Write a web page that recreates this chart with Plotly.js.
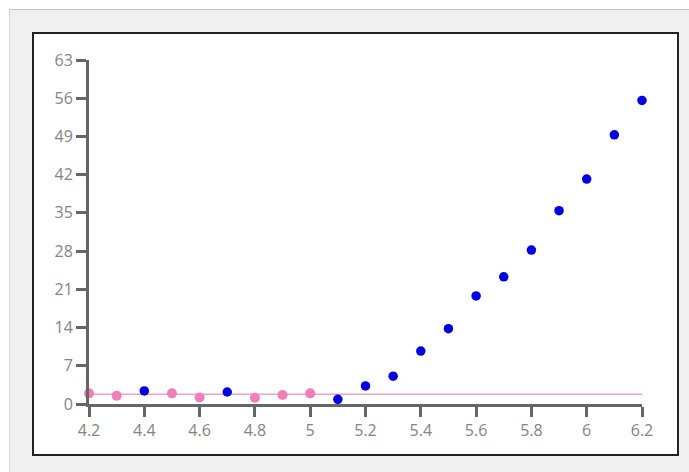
<!DOCTYPE html>
<html>
<head>
<meta charset="utf-8">
<script src="https://cdn.plot.ly/plotly-3.0.1.min.js"></script>
<style>
  html, body { margin:0; padding:0; background:#ffffff; width:689px; height:472px; overflow:hidden; }
  #outer { position:absolute; left:9px; top:9px; width:680px; height:463px; background:#f0f0f0;
           border-top:1px solid #c4c4c4; border-left:1px solid #d4d4d4; box-sizing:border-box; }
  #panel { position:absolute; left:32px; top:32px; width:647px; height:424px; background:#ffffff;
           border:2px solid #222222; box-sizing:border-box; }
  #chart { position:absolute; left:0; top:0; width:689px; height:472px; }
</style>
</head>
<body>
<div id="outer"></div>
<div id="panel"></div>
<div id="chart"></div>
<script>
// Pink series (markers) and its reference line
const pinkX = [4.2, 4.3, 4.5, 4.6, 4.8, 4.9, 5.0];
const pinkY = [1.95, 1.5, 1.95, 1.2, 1.15, 1.65, 1.95];
const pinkLineX = [4.2, 6.2];
const pinkLineY = [1.8, 1.8];

// Blue series
const blueX = [4.4, 4.7, 5.1, 5.2, 5.3, 5.4, 5.5, 5.6, 5.7, 5.8, 5.9, 6.0, 6.1, 6.2];
const blueY = [2.4, 2.2, 0.85, 3.3, 5.1, 9.7, 13.8, 19.8, 23.3, 28.2, 35.4, 41.2, 49.3, 55.6];

// Tick labels
const xTickVals = [4.2, 4.4, 4.6, 4.8, 5.0, 5.2, 5.4, 5.6, 5.8, 6.0, 6.2];
const xTickText = ["4.2", "4.4", "4.6", "4.8", "5", "5.2", "5.4", "5.6", "5.8", "6", "6.2"];
const yTickVals = [0, 7, 14, 21, 28, 35, 42, 49, 56, 63];
const yTickText = ["0", "7", "14", "21", "28", "35", "42", "49", "56", "63"];

const traces = [
  { x: pinkLineX, y: pinkLineY, type: 'scatter', mode: 'lines',
    line: { color: '#eaa3cb', width: 1.5 }, hoverinfo: 'skip', cliponaxis: false },
  { x: pinkX, y: pinkY, type: 'scatter', mode: 'markers',
    marker: { color: '#f07fb9', size: 10 }, cliponaxis: false },
  { x: blueX, y: blueY, type: 'scatter', mode: 'markers',
    marker: { color: '#0000e0', size: 9.5 }, cliponaxis: false }
];

const axisCommon = {
  showline: true, linecolor: '#666666', linewidth: 3,
  ticks: 'outside', ticklen: 10, tickwidth: 3, tickcolor: '#666666',
  showgrid: false, zeroline: false,
  tickfont: { family: 'Open Sans, sans-serif', size: 16, color: '#848484' },
  fixedrange: true
};

const layout = {
  width: 689, height: 472,
  margin: { l: 89, r: 47, t: 60, b: 68 },
  paper_bgcolor: 'rgba(0,0,0,0)',
  plot_bgcolor: 'rgba(0,0,0,0)',
  showlegend: false,
  xaxis: Object.assign({}, axisCommon, {
    range: [4.2, 6.2], tickmode: 'array', tickvals: xTickVals, ticktext: xTickText
  }),
  yaxis: Object.assign({}, axisCommon, {
    range: [0, 63], tickmode: 'array', tickvals: yTickVals, ticktext: yTickText
  })
};

Plotly.newPlot('chart', traces, layout, { displayModeBar: false, staticPlot: true });
</script>
</body>
</html>
